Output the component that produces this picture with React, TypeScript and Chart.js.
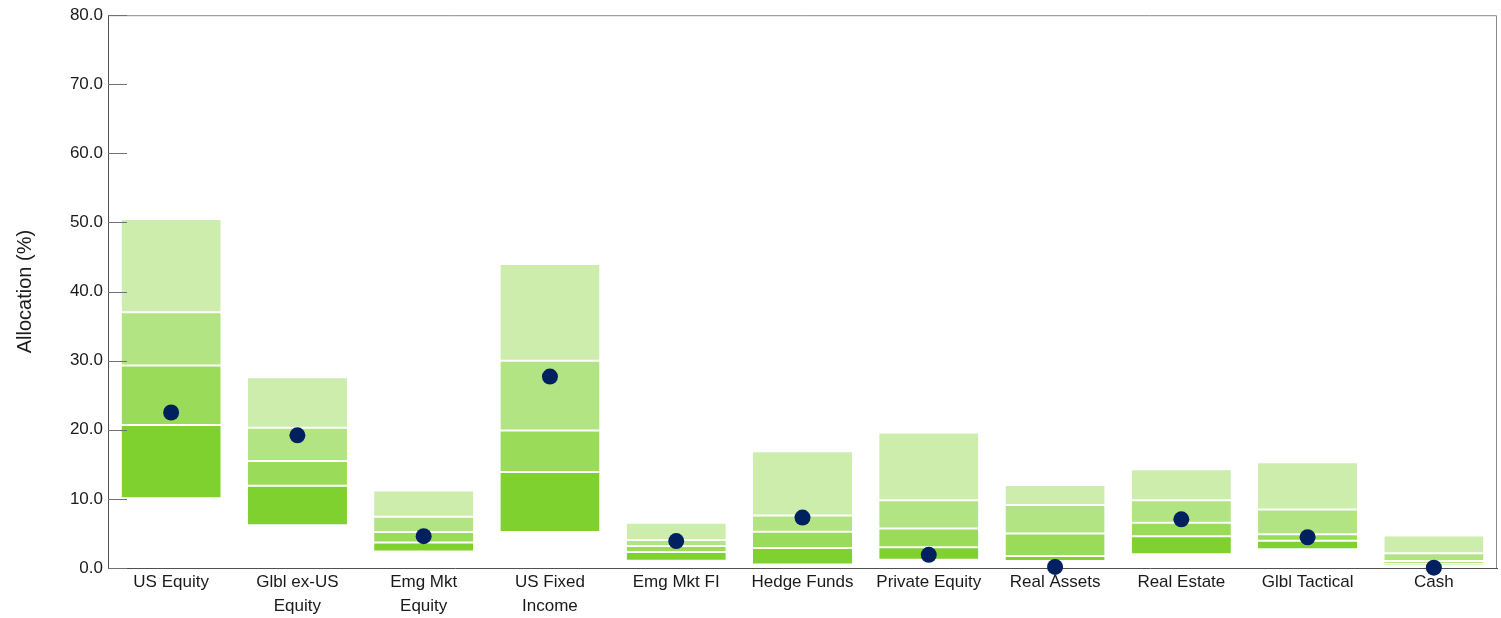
import React, { useEffect, useRef } from "react";
import { Chart, registerables } from "chart.js";

Chart.register(...registerables);

const categories: (string | string[])[] = [
  "US Equity",
  ["Glbl ex-US", "Equity"],
  ["Emg Mkt", "Equity"],
  ["US Fixed", "Income"],
  "Emg Mkt FI",
  "Hedge Funds",
  "Private Equity",
  "Real Assets",
  "Real Estate",
  "Glbl Tactical",
  "Cash",
];

const p5 = [10.1, 6.2, 2.4, 5.2, 1.05, 0.5, 1.2, 1.0, 2.0, 2.7, 0.3];
const p25 = [20.7, 11.9, 3.7, 13.9, 2.3, 2.9, 3.0, 1.75, 4.6, 3.95, 0.6];
const p50 = [29.3, 15.5, 5.2, 19.9, 3.2, 5.25, 5.7, 5.0, 6.55, 4.9, 1.0];
const p75 = [37.0, 20.3, 7.4, 30.0, 4.05, 7.6, 9.8, 9.1, 9.8, 8.45, 2.15];
const p95 = [50.5, 27.6, 11.2, 44.0, 6.55, 16.9, 19.6, 12.0, 14.3, 15.3, 4.7];
const actual = [22.5, 19.2, 4.6, 27.7, 3.9, 7.3, 1.9, 0.15, 7.05, 4.45, 0.05];

const yTicks = [0, 10, 20, 30, 40, 50, 60, 70, 80];

const FONT = "'Liberation Sans', Arial, sans-serif";

const segColors = ["#7ED12F", "#9BDB5A", "#B2E484", "#CCEDAC"];

const frame = {
  id: "frame",
  afterDraw(chart: any) {
    const { ctx, chartArea } = chart;
    const y = chart.scales.y;
    ctx.save();
    ctx.strokeStyle = "#8a8a8a";
    ctx.lineWidth = 1;
    ctx.beginPath();
    ctx.moveTo(chartArea.left, chartArea.top + 0.5);
    ctx.lineTo(chartArea.right - 0.5, chartArea.top + 0.5);
    ctx.lineTo(chartArea.right - 0.5, chartArea.bottom);
    ctx.stroke();
    ctx.strokeStyle = "#707070";
    ctx.beginPath();
    yTicks.forEach((v) => {
      const py = Math.round(y.getPixelForValue(v)) + 0.5;
      ctx.moveTo(chartArea.left, py);
      ctx.lineTo(chartArea.left + 19, py);
    });
    ctx.stroke();
    ctx.restore();
  },
};

export default function App() {
  const ref = useRef<HTMLCanvasElement>(null);

  useEffect(() => {
    if (!ref.current) return;
    const ranges = [
      [p5, p25],
      [p25, p50],
      [p50, p75],
      [p75, p95],
    ];
    const barSets = ranges.map(([lo, hi], i) => ({
      type: "bar" as const,
      label: `seg${i}`,
      data: lo.map((v, k) => [v, hi[k]]),
      backgroundColor: segColors[i],
      borderColor: "#ffffff",
      borderWidth: { top: 1, bottom: 1, left: 0, right: 0 },
      borderSkipped: false,
      grouped: false,
      categoryPercentage: 1,
      barPercentage: 0.785,
      order: 2,
    }));
    const chart = new Chart(ref.current, {
      type: "bar",
      data: {
        labels: categories,
        datasets: [
          ...barSets,
          {
            type: "line" as const,
            label: "Actual",
            data: actual,
            showLine: false,
            pointRadius: 8,
            pointHoverRadius: 8,
            pointBackgroundColor: "#002060",
            pointBorderColor: "#002060",
            pointBorderWidth: 0,
            clip: false,
            order: 0,
          } as any,
        ],
      },
      options: {
        animation: false,
        responsive: false,
        maintainAspectRatio: false,
        layout: { padding: { top: 15, right: 0, bottom: 0, left: 0 } },
        plugins: {
          legend: { display: false },
          tooltip: { enabled: false },
        },
        scales: {
          x: {
            afterFit(scale: any) {
              scale.height = 50;
            },
            grid: { display: false, drawTicks: false },
            border: { display: true, color: "#505050", width: 1 },
            ticks: {
              color: "#1a1a1a",
              font: { family: FONT, size: 17, lineHeight: "24px" },
              padding: 2,
              maxRotation: 0,
              autoSkip: false,
            },
          },
          y: {
            min: 0,
            max: 80,
            afterFit(scale: any) {
              scale.width = 108;
            },
            afterBuildTicks(scale: any) {
              scale.ticks = yTicks.map((v) => ({ value: v }));
            },
            grid: { display: false, drawTicks: false },
            border: { display: true, color: "#505050", width: 1 },
            ticks: {
              color: "#1a1a1a",
              font: { family: FONT, size: 17 },
              padding: 5,
              callback: (v: any) => Number(v).toFixed(1),
            },
            title: {
              display: true,
              text: "Allocation (%)",
              color: "#1a1a1a",
              font: { family: FONT, size: 20 },
              padding: { top: 13, bottom: 0 },
            },
          },
        },
      },
      plugins: [frame],
    });
    return () => chart.destroy();
  }, []);

  return (
    <div style={{ position: "fixed", left: 0, top: 0, width: 1501, height: 618, background: "#fff", overflow: "hidden" }}>
      <canvas ref={ref} width={1505} height={618} style={{ width: 1505, height: 618 }} />
    </div>
  );
}
